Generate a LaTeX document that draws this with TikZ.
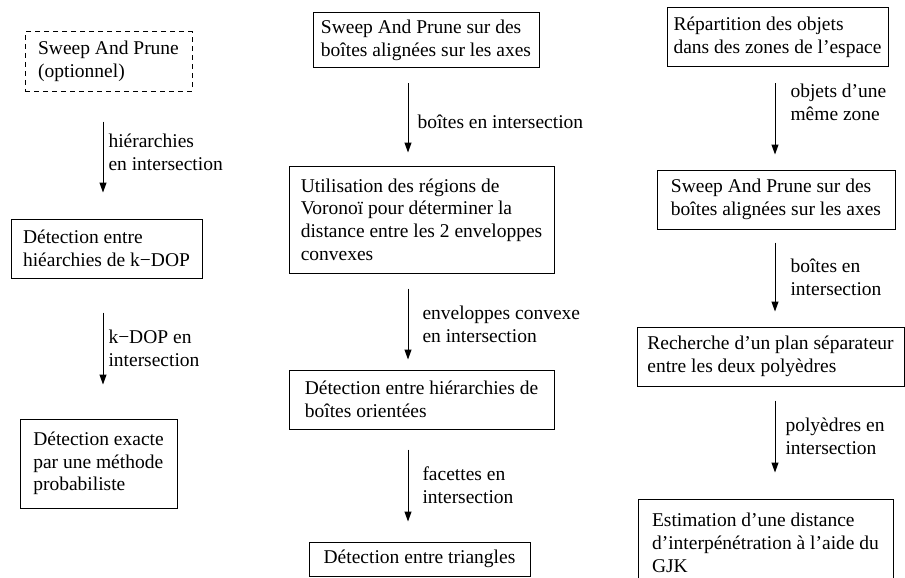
\documentclass[tikz,border=0pt]{standalone}
\usepackage{fontspec}
\setmainfont{Liberation Serif}
\usepackage{tikz}
\usetikzlibrary{arrows.meta, positioning}

\begin{document}
\begin{tikzpicture}[
  x=1pt, y=-1pt,
  box/.style={rectangle, draw=black, line width=1pt, inner sep=0pt,
              align=left},
  optbox/.style={box, dash pattern=on 5pt off 4pt},
  arr/.style={-{Triangle[length=10pt, width=7pt]}, line width=1pt},
  lbl/.style={anchor=west, inner sep=0pt, align=left},
  every node/.style={font=\fontsize{19.5}{22.7}\selectfont}
]
\useasboundingbox (0,0) rectangle (905,578);

% Left column
\node[optbox, minimum width=167, minimum height=59] (sapopt) at (108.5,61.5)
      {Sweep And Prune\\(optionnel)};
\node[box, minimum width=191, minimum height=59] (dethier) at (106.5,248.5)
      {Détection entre\\hiéarchies de k−DOP};
\node[box, minimum width=157, minimum height=89] (detexact) at (98.5,463.5)
      {Détection exacte\\par une méthode\\probabiliste};

% Middle column
\node[box, minimum width=226, minimum height=55] (sapaabb) at (426,40.5)
      {Sweep And Prune sur des\\boîtes alignées sur les axes};
\node[box, minimum width=265, minimum height=107] (voronoi) at (421.5,219.5)
      {Utilisation des régions de\\Voronoï pour déterminer la\\distance entre les 2 enveloppes\\convexes};
\node[box, minimum width=265, minimum height=59] (obb) at (421.5,399.5)
      {Détection entre hiérarchies de\\boîtes orientées};
\node[box, minimum width=221, minimum height=34] (tri) at (419.5,559)
      {Détection entre triangles};

% Right column
\node[box, minimum width=221, minimum height=59] (zones) at (777.5,37.5)
      {Répartition des objets\\dans des zones de l’espace};
\node[box, minimum width=238, minimum height=59] (sapzone) at (776,199.5)
      {Sweep And Prune sur des\\boîtes alignées sur les axes};
\node[box, minimum width=267, minimum height=59] (plan) at (770.5,356.5)
      {Recherche d’un plan séparateur\\entre les deux polyèdres};
\node[box, minimum width=255, minimum height=88] (gjk) at (765.5,543)
      {Estimation d’une distance\\d’interpénétration à l’aide du\\GJK};

% Arrows
\draw[arr] ([xshift=-5.5,yshift=-30]sapopt.south) --
      node[lbl, xshift=5, yshift=5] {hiérarchies\\en intersection}
      ([xshift=-3.5,yshift=26]dethier.north);
\draw[arr] ([xshift=-3.5,yshift=-34]dethier.south) --
      node[lbl, xshift=5] {k−DOP en\\intersection}
      ([xshift=4.5,yshift=34]detexact.north);
\draw[arr] ([xshift=-18,yshift=-15]sapaabb.south) --
      node[lbl, xshift=9, yshift=-4] {boîtes en intersection}
      ([xshift=-13.5,yshift=13]voronoi.north);
\draw[arr] ([xshift=-13.5,yshift=-15]voronoi.south) --
      node[lbl, xshift=14] {enveloppes convexe\\en intersection}
      ([xshift=-13.5,yshift=10]obb.north);
\draw[arr] ([xshift=-13.5,yshift=-20]obb.south) --
      node[lbl, xshift=14] {facettes en\\intersection}
      ([xshift=-11.5,yshift=20]tri.north);
\draw[arr] ([xshift=-2.5,yshift=-16]zones.south) --
      node[lbl, xshift=15, yshift=17] {objets d’une\\même zone}
      ([xshift=-1,yshift=15]sapzone.north);
\draw[arr] ([xshift=-1,yshift=-13]sapzone.south) --
      node[lbl, xshift=15] {boîtes en\\intersection}
      ([xshift=4.5,yshift=15]plan.north);
\draw[arr] ([xshift=4.5,yshift=-14]plan.south) --
      node[lbl, xshift=10] {polyèdres en\\intersection}
      ([xshift=9.5,yshift=26]gjk.north);
\end{tikzpicture}
\end{document}
